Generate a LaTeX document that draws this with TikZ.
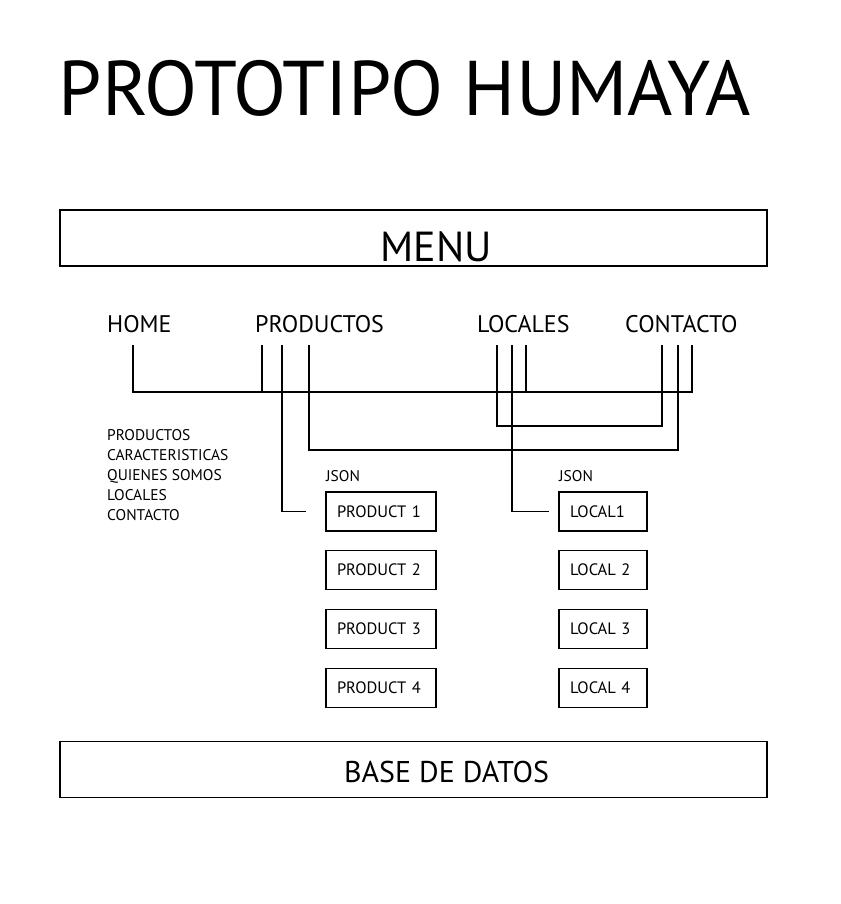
\documentclass[tikz,border=0pt]{standalone}
\usepackage{fontspec}
\setmainfont{PT Sans}
\begin{document}
\begin{tikzpicture}[x=1pt,y=-1pt,
  conn/.style={line width=1.8pt},
  bigbox/.style={draw,line width=1.8pt,minimum width=707pt,minimum height=56pt,inner sep=0pt},
  pbox/.style={draw,line width=1.8pt,minimum width=110pt,minimum height=39pt,text width=88pt,inner xsep=11pt,inner ysep=0pt,align=left,font=\fontsize{16.5}{18}\selectfont},
  lbox/.style={draw,line width=1.8pt,minimum width=88pt,minimum height=39pt,text width=66pt,inner xsep=11pt,inner ysep=0pt,align=left,font=\fontsize{16.5}{18}\selectfont},
  item/.style={anchor=base west,inner sep=0pt,font=\fontsize{24}{28}\selectfont},
  small/.style={anchor=base west,inner sep=0pt,font=\fontsize{15.5}{20}\selectfont}]
\useasboundingbox (0,0) rectangle (840,904);
\fill[white] (0,0) rectangle (840,904);
% title
\node[anchor=base,inner sep=0pt,font=\fontsize{77.5}{80}\selectfont] (title) at (405,116) {PROTOTIPO HUMAYA};
% menu box
\node[bigbox] (menu) at (413.5,238) {};
\node[anchor=base,inner sep=0pt,font=\fontsize{42}{46}\selectfont] (menut) at (436,261) {MENU};
% menu items
\node[item] (home) at (107,332) {HOME};
\node[item] (prod) at (255,332) {PRODUCTOS};
\node[item] (loc) at (477,332) {LOCALES};
\node[item] (cont) at (625,332) {CONTACTO};
% left list
\node[small,align=left,anchor=north west,font=\fontsize{15.5}{20}\selectfont] (list) at (107,429) {PRODUCTOS\\CARACTERISTICAS\\QUIENES SOMOS\\LOCALES\\CONTACTO};
% json
\node[small] (json1) at (326,481) {JSON};
\node[small] (json2) at (559,481) {JSON};
% product boxes
\node[pbox] (p1) at (381,511.5) {PRODUCT 1};
\node[pbox] (p2) at (381,570) {PRODUCT 2};
\node[pbox] (p3) at (381,629) {PRODUCT 3};
\node[pbox] (p4) at (381,688) {PRODUCT 4};
% local boxes
\node[lbox] (l1) at (603,511.5) {LOCAL1};
\node[lbox] (l2) at (603,570) {LOCAL 2};
\node[lbox] (l3) at (603,629) {LOCAL 3};
\node[lbox] (l4) at (603,688) {LOCAL 4};
% base de datos
\node[bigbox] (bd) at (413.5,769.5) {};
\node[anchor=base,inner sep=0pt,font=\fontsize{30}{34}\selectfont] (bdt) at (446.5,782) {BASE DE DATOS};
% connector anchor points
\coordinate (h1) at (133,345);
\coordinate (pa) at (262,345);
\coordinate (pb) at (282,345);
\coordinate (pc) at (309,345);
\coordinate (la) at (497,345);
\coordinate (lb) at (512,345);
\coordinate (lc) at (526,345);
\coordinate (ca) at (662,345);
\coordinate (cb) at (678,345);
\coordinate (cc) at (692,345);
% connectors
\draw[conn] (h1) |- (cc |- 0,392) -- (cc);
\draw[conn] (pa) -- (pa |- 0,392);
\draw[conn] (lc) -- (lc |- 0,392);
\draw[conn] (pc) |- (cb |- 0,450) -- (cb);
\draw[conn] (la) |- (ca |- 0,426) -- (ca);
\draw[conn] (pb) |- ([xshift=-19pt]p1.west);
\draw[conn] (lb) |- ([xshift=-9pt]l1.west);
\end{tikzpicture}
\end{document}
